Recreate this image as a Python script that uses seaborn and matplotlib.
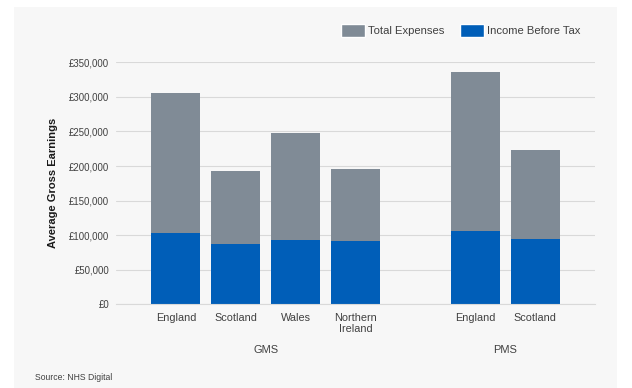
import pandas as pd
import seaborn as sns
import matplotlib.pyplot as plt
from matplotlib.patches import Patch, Rectangle
from matplotlib.ticker import FuncFormatter

# values
schemes = ["GMS", "GMS", "GMS", "GMS", "PMS", "PMS"]
countries = ["England", "Scotland", "Wales", "Northern\nIreland", "England", "Scotland"]
gross_earnings = [305000, 193000, 248000, 195000, 336000, 223000]
income_before_tax = [103000, 87000, 93000, 91000, 106000, 95000]

grey = "#808b96"
blue = "#005eb8"

df = pd.DataFrame({"scheme": schemes, "country": countries,
                   "gross": gross_earnings, "income": income_before_tax})
df["key"] = df["scheme"] + " " + df["country"]
# empty slot between the two schemes
order = list(df["key"][:4]) + ["gap"] + list(df["key"][4:])

sns.set_style("white")
plt.rcParams["font.family"] = ["Liberation Sans", "DejaVu Sans"]

fig = plt.figure(figsize=(6.32, 3.88), dpi=100, facecolor="white")
fig.patches.append(Rectangle((14 / 632, 0), 603 / 632, 381 / 388,
                             transform=fig.transFigure, facecolor="#f7f7f7",
                             edgecolor="none", zorder=-10))
ax = fig.add_axes([0.1835, 0.2157, 0.758, 0.6237])
ax.set_facecolor("none")

# expenses sit on top of income, so the grey bar is the full gross earnings
sns.barplot(data=df, x="key", y="gross", order=order, color=grey, saturation=1,
            width=0.82, linewidth=0, ax=ax)
sns.barplot(data=df, x="key", y="income", order=order, color=blue, saturation=1,
            width=0.82, linewidth=0, ax=ax)

ax.set_xlim(-1, 7)
ax.set_ylim(0, 350000)
ax.set_yticks(range(0, 350001, 50000))
ax.yaxis.set_major_formatter(FuncFormatter(lambda v, p: f"£{int(v):,}"))
ax.set_xticks([0, 1, 2, 3, 5, 6])
ax.set_xticklabels(countries, fontsize=7.8, color="#404040", linespacing=1.15)
ax.tick_params(axis="y", labelsize=6.9, labelcolor="#404040", length=0, pad=5)
ax.tick_params(axis="x", length=0, pad=6)
ax.grid(axis="y", color="#d9d9d9", linewidth=0.8)
ax.set_axisbelow(True)
for side in ["top", "right", "left"]:
    ax.spines[side].set_visible(False)
ax.spines["bottom"].set_color("#d9d9d9")
ax.spines["bottom"].set_linewidth(0.8)

ax.set_xlabel("")
ax.set_ylabel("Average Gross Earnings", fontsize=8, fontweight="bold",
              color="#1a1a1a", labelpad=8)

# scheme labels under the countries
for xpos, name in [(1.5, "GMS"), (5.5, "PMS")]:
    ax.text(xpos, -0.19, name, transform=ax.get_xaxis_transform(),
            ha="center", va="center", fontsize=7.9, color="#404040")

handles = [Patch(facecolor=grey, label="Total Expenses"),
           Patch(facecolor=blue, label="Income Before Tax")]
fig.legend(handles=handles, loc="center right", bbox_to_anchor=(0.935, 0.922),
           ncol=2, frameon=False, fontsize=8.1, handlelength=2.1,
           handleheight=1.4, handletextpad=0.3, columnspacing=1.4,
           labelcolor="#404040")

fig.text(35 / 632, 1 - 378 / 388, "Source: NHS Digital", fontsize=6.2,
         color="#404040", va="center")

fig.savefig("out.png", dpi=100, facecolor=fig.get_facecolor())
